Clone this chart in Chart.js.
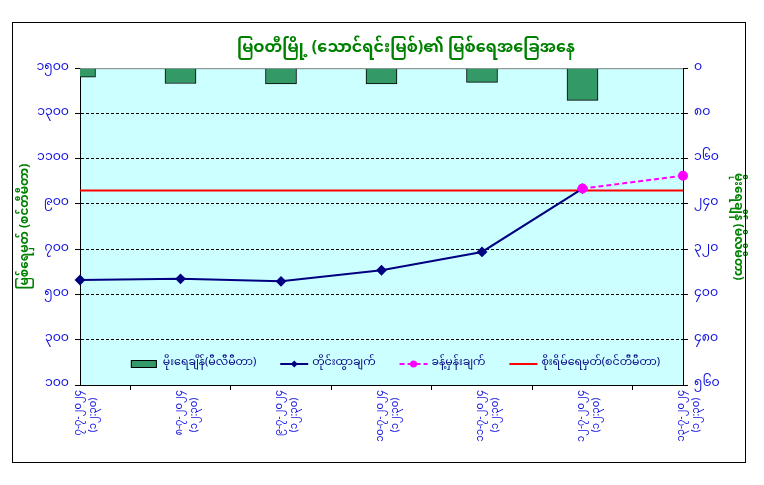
<!DOCTYPE html>
<html><head><meta charset="utf-8">
<script src="https://cdn.jsdelivr.net/npm/chart.js@4/dist/chart.umd.min.js"></script>
<style>html,body{margin:0;padding:0;background:#fff}canvas{display:block}</style>
</head><body>
<canvas id="c" width="764" height="485"></canvas>
<script>
const categories = [
  ['၇-၇-၂၀၂၄','(၁၂:၃၀)   '],
  ['၈-၇-၂၀၂၄','(၁၂:၃၀)   '],
  ['၉-၇-၂၀၂၄','(၁၂:၃၀)   '],
  ['၁၀-၇-၂၀၂၄','(၁၂:၃၀)   '],
  ['၁၁-၇-၂၀၂၄','(၁၂:၃၀)   '],
  ['၁၂-၇-၂၀၂၄','(၁၂:၃၀)   '],
  ['၁၃-၇-၂၀၂၄','(၁၂:၃၀)   ']
];
const rainfall = [16, 27, 28, 28, 25, 57, null];
const observed = [564, 569, 558, 607, 688, 968, null];
const forecast = [null, null, null, null, null, 968, 1025];
const dangerLevel = [960, 960, 960, 960, 960, 960, 960];
const leftTickValues = [100, 300, 500, 700, 900, 1100, 1300, 1500];
const leftTickLabels = ['၁၀၀','၃၀၀','၅၀၀','၇၀၀','၉၀၀','၁၁၀၀','၁၃၀၀','၁၅၀၀'];
const rightTickValues = [0, 80, 160, 240, 320, 400, 480, 560];
const rightTickLabels = ['၀','၈၀','၁၆၀','၂၄၀','၃၂၀','၄၀၀','၄၈၀','၅၆၀'];
const seriesNames = ['မိုးရေချိန်(မီလီမီတာ)','တိုင်းထွာချက်','ခန့်မှန်းချက်','စိုးရိမ်ရေမှတ်(စင်တီမီတာ)'];
const titleText = 'မြဝတီမြို့ (သောင်ရင်းမြစ်)၏ မြစ်ရေအခြေအနေ';
const leftAxisTitle = 'မြစ်ရေမှတ် (စင်တီမီတာ)';
const rightAxisTitle = 'မိုးရေချိန် (မီလီမီတာ)';

const FAM = "'Noto Sans Myanmar','Padauk','Myanmar Text','Noto Sans',sans-serif";
Chart.defaults.font.family = FAM;
const BLUE = '#1010E0';
const GREEN = '#008000';

function labelFor(values, labels, v) {
  const i = values.indexOf(v);
  return i >= 0 ? labels[i] : '';
}

const bgPlugin = {
  id: 'bg',
  beforeDraw(chart) {
    const {ctx, chartArea: a} = chart;
    ctx.save();
    ctx.fillStyle = '#CCFFFF';
    ctx.fillRect(a.left, a.top, a.right - a.left, a.bottom - a.top);
    ctx.restore();
  },
  beforeDatasetsDraw(chart) {
    const {ctx, chartArea: a} = chart;
    ctx.save();
    ctx.strokeStyle = '#808080';
    ctx.lineWidth = 1;
    ctx.beginPath();
    ctx.moveTo(a.left, a.top + 0.5);
    ctx.lineTo(a.right, a.top + 0.5);
    ctx.stroke();
    ctx.restore();
  },
  afterDraw(chart) {
    const ctx = chart.ctx;
    ctx.save();
    ctx.strokeStyle = '#000';
    ctx.lineWidth = 1;
    ctx.strokeRect(12.5, 22.5, 733, 440);
    ctx.restore();
  }
};

const legendPlugin = {
  id: 'insideLegend',
  afterDatasetsDraw(chart) {
    const {ctx, chartArea: a} = chart;
    const ds = chart.data.datasets;
    ctx.save();
    ctx.font = '11px ' + FAM;
    const sw = 28, g1 = 4, g2 = 24;
    let total = 0;
    ds.forEach((d, i) => { total += sw + g1 + ctx.measureText(d.label).width + (i < ds.length - 1 ? g2 : 0); });
    let x = (a.left + a.right) / 2 + 14 - total / 2;
    const y = a.bottom - 21;
    ds.forEach((d) => {
      if (d.type === 'bar') {
        ctx.fillStyle = d.backgroundColor;
        ctx.strokeStyle = '#000';
        ctx.lineWidth = 1;
        ctx.fillRect(x, y - 3.5, sw - 2, 7);
        ctx.strokeRect(x + 0.5, y - 3.5, sw - 3, 7);
      } else {
        ctx.strokeStyle = d.borderColor;
        ctx.lineWidth = d.borderWidth;
        ctx.setLineDash(d.borderDash || []);
        ctx.beginPath();
        ctx.moveTo(x, y); ctx.lineTo(x + sw, y);
        ctx.stroke();
        ctx.setLineDash([]);
        if (d.pointRadius > 0) {
          ctx.fillStyle = d.pointBackgroundColor;
          ctx.beginPath();
          if (d.pointStyle === 'rectRot') {
            const r = 3.5;
            ctx.moveTo(x + sw / 2, y - r); ctx.lineTo(x + sw / 2 + r, y);
            ctx.lineTo(x + sw / 2, y + r); ctx.lineTo(x + sw / 2 - r, y);
            ctx.closePath();
          } else {
            ctx.arc(x + sw / 2, y, 3.5, 0, Math.PI * 2);
          }
          ctx.fill();
        }
      }
      x += sw + g1;
      ctx.fillStyle = '#000080';
      ctx.textBaseline = 'middle';
      ctx.textAlign = 'left';
      ctx.fillText(d.label, x, y);
      x += ctx.measureText(d.label).width + g2;
    });
    ctx.restore();
  }
};

new Chart(document.getElementById('c'), {
  data: {
    labels: categories,
    datasets: [
      { type: 'bar', label: seriesNames[0], data: rainfall, yAxisID: 'y2',
        backgroundColor: '#339966', borderColor: '#000', borderWidth: 1,
        barThickness: 31, order: 10 },
      { type: 'line', label: seriesNames[1], data: observed, yAxisID: 'y',
        borderColor: '#000080', backgroundColor: '#000080', borderWidth: 2,
        pointStyle: 'rectRot', pointRadius: 4, pointBackgroundColor: '#000080',
        pointBorderColor: '#000080', tension: 0, order: 2 },
      { type: 'line', label: seriesNames[2], data: forecast, yAxisID: 'y',
        borderColor: '#FF00FF', backgroundColor: '#FF00FF', borderWidth: 2,
        borderDash: [5, 3], pointStyle: 'circle', pointRadius: 4,
        pointBackgroundColor: '#FF00FF', pointBorderColor: '#FF00FF', tension: 0, order: 1 },
      { type: 'line', label: seriesNames[3], data: dangerLevel, yAxisID: 'y',
        borderColor: '#FF0000', backgroundColor: '#FF0000', borderWidth: 2,
        pointRadius: 0, tension: 0, order: 5 }
    ]
  },
  options: {
    responsive: false,
    animation: false,
    layout: { padding: { top: 41, left: 0, right: -48, bottom: 0 } },
    plugins: {
      legend: { display: false },
      tooltip: { enabled: false },
      title: { display: true, text: titleText, color: GREEN,
        font: { size: 16, weight: 'bold' }, padding: { top: 0, bottom: 8 } }
    },
    scales: {
      x: {
        type: 'category', offset: false,
        grid: { display: true, drawOnChartArea: false, drawTicks: true, tickLength: 5, tickColor: '#000' },
        border: { display: true, color: '#000', width: 1 },
        ticks: { autoSkip: false, maxRotation: 90, minRotation: 90, padding: 0,
          color: BLUE, font: { size: 10, lineHeight: 1.5 } },
        afterFit(s) { s.height = 100; }
      },
      y: {
        type: 'linear', position: 'left', min: 100, max: 1500,
        ticks: { stepSize: 200, color: BLUE, font: { size: 12.5 }, padding: 6,
          callback: (v) => labelFor(leftTickValues, leftTickLabels, v) },
        grid: { drawOnChartArea: true, tickLength: 5, tickColor: '#000', lineWidth: 1,
          color: (c) => (c.index === 0 || c.index === 7) ? 'rgba(0,0,0,0)' : '#000' },
        border: { display: true, color: '#000', width: 1, dash: [3, 2] },
        title: { display: true, text: leftAxisTitle, color: GREEN,
          font: { size: 12, weight: 'bold' }, padding: { top: 20, bottom: 0 } },
        afterFit(s) { s.width = 80; }
      },
      y2: {
        type: 'linear', position: 'right', min: 0, max: 560, reverse: true,
        ticks: { stepSize: 80, color: BLUE, font: { size: 12.5 }, padding: 6,
          callback: (v) => labelFor(rightTickValues, rightTickLabels, v) },
        grid: { drawOnChartArea: false, tickLength: 5, tickColor: '#000' },
        border: { display: true, color: '#000', width: 1 },
        title: { display: true, text: rightAxisTitle, color: GREEN,
          font: { size: 12, weight: 'bold' }, padding: { top: 68.8, bottom: 0 } },
        afterFit(s) { s.width = 129; }
      }
    }
  },
  plugins: [bgPlugin, legendPlugin]
});
</script>
</body></html>
